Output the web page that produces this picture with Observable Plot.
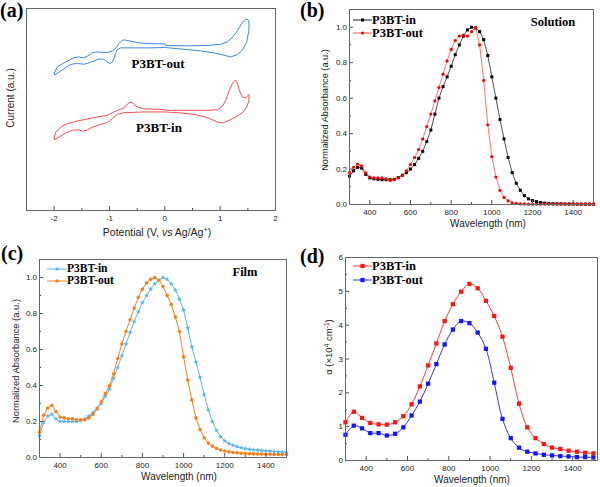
<!DOCTYPE html>
<html>
<head>
<meta charset="utf-8">
<script src="https://cdn.jsdelivr.net/npm/d3@7"></script>
<script src="https://cdn.jsdelivr.net/npm/@observablehq/plot@0.6"></script>
<style>
  body { margin: 0; background: #fff; }
  #fig { position: relative; width: 600px; height: 487px; overflow: hidden; background: #fff; }
  .pane { position: absolute; }
  .pane svg { display: block; background: transparent !important; }
  .t { position: absolute; transform: translate(-50%, -50%); white-space: nowrap; line-height: 1;
       font-family: 'Liberation Sans', Arial, sans-serif; font-size: 10px; color: #222; }
  .rot { transform: translate(-50%, -50%) rotate(-90deg); }
  .serif { font-family: 'Liberation Serif', 'Times New Roman', serif; font-weight: bold; color: #000; }
  .pl { position: absolute; white-space: nowrap; line-height: 1; font-family: 'Liberation Serif', 'Times New Roman', serif;
        font-weight: bold; font-size: 20px; color: #000; }
  .leg { position: absolute; transform: translate(0, -50%); white-space: nowrap; line-height: 1;
         font-family: 'Liberation Serif', 'Times New Roman', serif; font-weight: bold; font-size: 12.5px; color: #000; }
  .sw { position: absolute; }
  sup { font-size: 70%; line-height: 0; vertical-align: 0.45em; }
</style>
</head>
<body>
<div id="fig"></div>
<script>
// ---------------- DATA ----------------
// (a) cyclic voltammetry loops: potential (V) and current (a.u.)
const cvOutV = [-2.00,-1.94,-1.85,-1.73,-1.64,-1.55,-1.46,-1.37,-1.31,-1.22,-1.13,-1.04,-0.95,-0.89,-0.83,-0.78,-0.74,-0.65,-0.50,-0.26,0.00,0.01,0.41,0.77,1.01,1.13,1.22,1.31,1.38,1.44,1.49,1.52,
                1.52,1.48,1.40,1.31,1.19,1.07,0.89,0.65,0.35,0.00,-0.26,-0.56,-0.80,-0.86,-0.89,-0.92,-0.95,-0.99,-1.04,-1.11,-1.19,-1.28,-1.37,-1.46,-1.55,-1.64,-1.73,-1.82,-1.91,-1.99,-2.00];
const cvOutI = [6.81,7.11,7.27,7.44,7.57,7.60,7.55,7.69,7.82,7.85,7.83,7.82,7.90,8.02,8.26,8.40,8.45,8.40,8.31,8.26,8.25,8.17,8.15,8.17,8.23,8.35,8.56,8.89,9.22,9.42,9.47,9.39,
                8.93,8.35,7.93,7.72,7.60,7.69,7.80,7.90,7.98,8.07,8.05,8.05,8.05,7.97,7.77,7.52,7.36,7.27,7.36,7.49,7.50,7.40,7.31,7.24,7.27,7.27,7.19,7.02,6.86,6.71,6.81];
const cvInV = [-2.00,-1.97,-1.88,-1.76,-1.58,-1.40,-1.22,-1.04,-0.92,-0.83,-0.74,-0.68,-0.63,-0.58,-0.50,-0.38,0.00,0.01,0.41,0.77,0.95,1.04,1.10,1.16,1.22,1.27,1.31,1.35,1.40,1.46,1.50,1.52,
               1.52,1.48,1.40,1.28,1.16,1.04,0.95,0.77,0.53,0.29,0.00,-0.38,-0.74,-0.86,-0.95,-1.04,-1.16,-1.31,-1.41,-1.49,-1.57,-1.67,-1.79,-1.89,-1.99,-2.00];
const cvInI = [3.60,3.88,4.13,4.30,4.43,4.53,4.63,4.71,4.88,4.99,5.07,5.26,5.37,5.32,5.12,5.04,4.99,4.96,4.96,4.96,4.99,5.16,5.45,5.92,6.28,6.45,6.31,5.92,5.62,5.57,5.67,5.74,
               5.45,5.12,4.83,4.63,4.46,4.33,4.38,4.60,4.76,4.83,4.88,4.88,4.84,4.76,4.55,4.36,4.26,4.13,3.97,3.93,4.00,3.97,3.83,3.67,3.50,3.60];

// (b),(c) wavelength grid (nm)
const wl20 = [300,320,340,360,380,400,420,440,460,480,500,520,540,560,580,600,620,640,660,680,700,720,740,760,780,800,820,840,860,880,900,
              920,940,960,980,1000,1020,1040,1060,1080,1100,1120,1140,1160,1180,1200,1220,1240,1260,1280,1300,1320,1340,1360,1380,1400,1420,1440,1460,1480,1500];
// (b) solution, normalized absorbance
const solIn  = [0.16,0.19,0.21,0.205,0.17,0.15,0.145,0.142,0.14,0.14,0.14,0.142,0.152,0.165,0.18,0.20,0.225,0.26,0.30,0.355,0.42,0.51,0.60,0.665,0.72,0.78,0.845,0.90,0.95,0.985,1.0,
                0.995,0.975,0.93,0.84,0.72,0.60,0.48,0.37,0.265,0.18,0.12,0.08,0.05,0.032,0.022,0.016,0.011,0.008,0.006,0.005,0.004,0.004,0.003,0.003,0.003,0.002,0.002,0.002,0.002,0.002];
const solOut = [0.18,0.21,0.228,0.218,0.178,0.155,0.15,0.15,0.15,0.145,0.135,0.14,0.15,0.165,0.19,0.225,0.265,0.31,0.37,0.44,0.51,0.585,0.66,0.735,0.81,0.875,0.925,0.95,0.955,0.95,0.975,
                1.0,0.90,0.70,0.45,0.27,0.155,0.08,0.04,0.02,0.01,0.006,0.004,0.003,0.002,0.002,0.002,0.002,0.002,0.002,0.002,0.002,0.002,0.002,0.002,0.002,0.002,0.002,0.002,0.002,0.002];
// (c) film, normalized absorbance
const filmIn  = [0.12,0.195,0.23,0.24,0.215,0.20,0.20,0.20,0.20,0.20,0.205,0.215,0.23,0.25,0.275,0.30,0.34,0.38,0.44,0.50,0.565,0.63,0.695,0.755,0.81,0.86,0.90,0.935,0.965,0.985,1.0,
                 0.99,0.965,0.93,0.88,0.82,0.72,0.615,0.53,0.445,0.35,0.265,0.20,0.15,0.115,0.093,0.078,0.068,0.06,0.054,0.05,0.046,0.043,0.041,0.039,0.037,0.035,0.033,0.031,0.03,0.029];
const filmOut = [0.14,0.235,0.275,0.29,0.255,0.225,0.22,0.215,0.215,0.21,0.21,0.21,0.22,0.24,0.27,0.31,0.355,0.40,0.465,0.55,0.63,0.70,0.765,0.83,0.89,0.935,0.97,0.99,1.0,0.985,0.95,
                 0.90,0.85,0.78,0.70,0.56,0.43,0.32,0.22,0.155,0.11,0.08,0.063,0.05,0.042,0.036,0.031,0.028,0.026,0.024,0.022,0.021,0.02,0.019,0.019,0.018,0.018,0.017,0.017,0.016,0.016];
// (d) absorption coefficient (x10^4 cm^-1)
const wl40 = [300,340,380,420,460,500,540,580,620,660,700,740,780,820,860,900,940,980,1020,1060,1100,1140,1180,1220,1260,1300,1340,1380,1420,1460,1500];
const alphaIn  = [1.13,1.44,1.26,1.11,1.07,1.06,1.13,1.31,1.66,2.19,2.81,3.46,4.12,4.62,4.99,5.22,5.09,4.72,4.27,3.66,2.74,1.68,0.98,0.66,0.49,0.38,0.34,0.29,0.26,0.23,0.21];
const alphaOut = [0.76,1.03,0.95,0.81,0.81,0.74,0.79,0.98,1.33,1.74,2.27,2.85,3.43,3.87,4.12,4.06,3.78,3.30,2.30,1.23,0.66,0.38,0.26,0.21,0.17,0.15,0.13,0.12,0.10,0.10,0.09];

// ticks
const xTicksA = [-2, -1, 0, 1, 2];
const xMinorA = [-1.5, -0.5, 0.5, 1.5];
const xTicksW = [400, 600, 800, 1000, 1200, 1400];
const xMinorW = [500, 700, 900, 1100, 1300];
const xMinorD = [500, 700, 900, 1100, 1300, 1500];
const yTicksN = [0, 0.2, 0.4, 0.6, 0.8, 1.0];
const yMinorN = [0.1, 0.3, 0.5, 0.7, 0.9];
const yTicksD = [0, 1, 2, 3, 4, 5, 6];
const yMinorD = [0.5, 1.5, 2.5, 3.5, 4.5, 5.5];

// labels
const seriesIn = "P3BT-in", seriesOut = "P3BT-out";
const titleA_x = "Potential (V, <i>vs</i> Ag/Ag<sup>+</sup>)";
const titleA_y = "Current (a.u.)";
const titleW = "Wavelength (nm)";
const titleN = "Normalized Absorbance (a.u.)";
const titleD_y = "α (×10<sup>4</sup> cm<sup>-1</sup>)";

// ---------------- DRAWING ----------------
const fig = document.getElementById("fig");
const tbl = (xs, ys) => xs.map((x, i) => ({x, y: ys[i]}));
const TICK = "#555";
const FONT = "'Liberation Sans', Arial, sans-serif";

function tickMarks(o) {
  const fw = o.w - o.ml - o.mr, fh = o.h - o.mt - o.mb;
  const m = [
    Plot.tickX(o.xt, {x: d => d, insetTop: fh - 4, stroke: TICK}),
    Plot.tickX(o.xm, {x: d => d, insetTop: fh - 2, stroke: TICK})
  ];
  if (o.yt) {
    m.push(Plot.tickY(o.yt, {y: d => d, insetRight: fw - 4, stroke: TICK}));
    m.push(Plot.tickY(o.ym, {y: d => d, insetRight: fw - 2, stroke: TICK}));
  }
  return m;
}

function panel(o) {
  const svg = Plot.plot({
    width: o.w, height: o.h,
    marginLeft: o.ml, marginRight: o.mr, marginTop: o.mt, marginBottom: o.mb,
    style: {fontFamily: FONT, fontSize: "8px", color: "#222", background: "transparent"},
    x: {domain: o.xd, ticks: o.xt, tickSize: 0, tickPadding: 5, tickFormat: d => String(d), label: null},
    y: o.yt ? {domain: o.yd, ticks: o.yt, tickSize: 0, tickPadding: 2.5, tickFormat: o.yf, label: null}
            : {domain: o.yd, axis: null},
    marks: [...o.marks, ...tickMarks(o), Plot.frame({stroke: "#666", strokeWidth: 1})]
  });
  const div = document.createElement("div");
  div.className = "pane";
  div.style.left = o.left + "px";
  div.style.top = o.top + "px";
  div.appendChild(svg);
  fig.appendChild(div);
}

function text(html, x, y, cls, size) {
  const d = document.createElement("div");
  d.className = cls;
  d.innerHTML = html;
  d.style.left = x + "px";
  d.style.top = y + "px";
  if (size) d.style.fontSize = size + "px";
  fig.appendChild(d);
}

function legend(label, x, y, len, lineColor, color, symbol, r, size) {
  const svg = d3.create("svg").attr("class", "sw")
    .attr("width", len).attr("height", 10)
    .style("left", x + "px").style("top", (y - 5) + "px");
  svg.append("line").attr("x1", 0).attr("x2", len).attr("y1", 5).attr("y2", 5)
    .attr("stroke", lineColor).attr("stroke-width", 1);
  svg.append("path").attr("transform", `translate(${len / 2},5)`)
    .attr("d", d3.symbol(symbol, Math.PI * r * r)())
    .attr("fill", color);
  fig.appendChild(svg.node());
  text(label, x + len, y, "leg", size);
}

// (a) CV
const cvOut = tbl(cvOutV, cvOutI), cvIn = tbl(cvInV, cvInI);
panel({
  left: 0, top: 0, w: 300, h: 243, ml: 26, mr: 25, mt: 8, mb: 33,
  xd: [-2.5, 2], yd: [0, 10], xt: xTicksA, xm: xMinorA,
  marks: [
    Plot.line(cvOut, {x: "x", y: "y", stroke: "#3d88d8", strokeWidth: 1}),
    Plot.line(cvIn, {x: "x", y: "y", stroke: "#f05050", strokeWidth: 1})
  ]
});

// (b) solution
const sIn = tbl(wl20, solIn), sOut = tbl(wl20, solOut);
panel({
  left: 300, top: 0, w: 300, h: 243, ml: 49, mr: 7, mt: 9, mb: 39,
  xd: [300, 1500], yd: [0, 1.1], xt: xTicksW, xm: xMinorW, yt: yTicksN, ym: yMinorN, yf: d3.format(".1f"),
  marks: [
    Plot.line(sIn, {x: "x", y: "y", stroke: "#222", strokeWidth: 0.8}),
    Plot.dot(sIn, {x: "x", y: "y", fill: "#000", r: 1.7, symbol: "square"}),
    Plot.line(sOut, {x: "x", y: "y", stroke: "#ff5050", strokeWidth: 0.8}),
    Plot.dot(sOut, {x: "x", y: "y", fill: "#ff0000", r: 1.6})
  ]
});

// (c) film
const fIn = tbl(wl20, filmIn), fOut = tbl(wl20, filmOut);
panel({
  left: 0, top: 243, w: 300, h: 244, ml: 39, mr: 14, mt: 16, mb: 30,
  xd: [300, 1500], yd: [0, 1.1], xt: xTicksW, xm: xMinorW, yt: yTicksN, ym: yMinorN, yf: d3.format(".1f"),
  marks: [
    Plot.line(fIn, {x: "x", y: "y", stroke: "#5cb8ec", strokeWidth: 1}),
    Plot.dot(fIn, {x: "x", y: "y", fill: "#4fb2ea", r: 1.6, symbol: "star"}),
    Plot.line(fOut, {x: "x", y: "y", stroke: "#f7801e", strokeWidth: 1}),
    Plot.dot(fOut, {x: "x", y: "y", fill: "#f7801e", r: 1.8})
  ]
});

// (d) absorption coefficient
const aIn = tbl(wl40, alphaIn), aOut = tbl(wl40, alphaOut);
panel({
  left: 300, top: 243, w: 300, h: 244, ml: 45, mr: 3, mt: 14, mb: 27,
  xd: [300, 1520], yd: [0, 6], xt: xTicksW, xm: xMinorD, yt: yTicksD, ym: yMinorD, yf: d => String(d),
  marks: [
    Plot.line(aIn, {x: "x", y: "y", stroke: "#ff3b3b", strokeWidth: 1, curve: "catmull-rom"}),
    Plot.dot(aIn, {x: "x", y: "y", fill: "#ff1414", r: 2.4, symbol: "square"}),
    Plot.line(aOut, {x: "x", y: "y", stroke: "#3434ff", strokeWidth: 1, curve: "catmull-rom"}),
    Plot.dot(aOut, {x: "x", y: "y", fill: "#1414ff", r: 2.4, symbol: "square"})
  ]
});

// panel letters
text("(a)", 0, 0, "pl");
text("(b)", 300, 0, "pl");
text("(c)", 1, 243, "pl");
text("(d)", 300, 246, "pl");

// axis titles
text(titleA_x, 157, 232, "t", 10.5);
text(titleA_y, 11, 98, "t rot", 10);
text(titleW, 488, 224, "t");
text(titleN, 326, 110, "t rot", 9.2);
text(titleW, 179, 477, "t");
text(titleN, 16, 361, "t rot", 9.4);
text(titleW, 472, 480, "t");
text(titleD_y, 329, 347, "t rot", 9.5);

// annotations
text(seriesOut, 158, 63, "t serif", 13);
text(seriesIn, 159, 127, "t serif", 13);
text("Solution", 553, 22, "t serif", 12.5);
text("Film", 245, 272, "t serif", 12.5);

// legends
legend(seriesIn, 353, 20, 19, "#222", "#000", d3.symbolSquare, 1.7);
legend(seriesOut, 353, 33, 19, "#ff5050", "#ff0000", d3.symbolCircle, 1.6);
legend(seriesIn, 47, 268.5, 20, "#5cb8ec", "#4fb2ea", d3.symbolStar, 1.6, 11.5);
legend(seriesOut, 47, 281, 20, "#f7801e", "#f7801e", d3.symbolCircle, 1.8, 11.5);
legend(seriesIn, 353, 266, 19, "#ff3b3b", "#ff1414", d3.symbolSquare, 2.4);
legend(seriesOut, 353, 280, 19, "#3434ff", "#1414ff", d3.symbolSquare, 2.4);
</script>
</body>
</html>
